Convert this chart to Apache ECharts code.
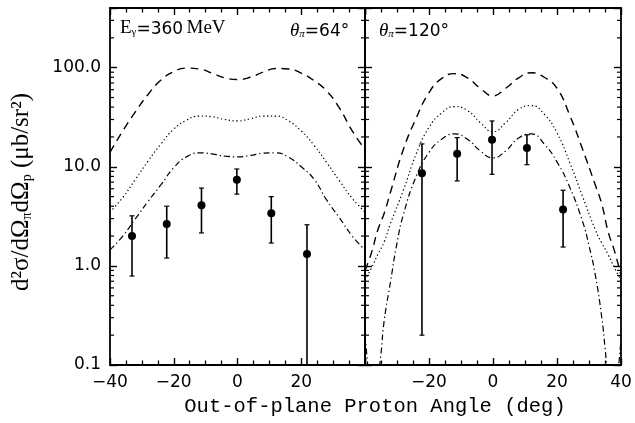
<!DOCTYPE html>
<html><head><meta charset="utf-8">
<script src="https://cdn.jsdelivr.net/npm/echarts@6/dist/echarts.min.js"></script>
<style>html,body{margin:0;padding:0;background:#fff}#c{width:635px;height:423px}</style>
</head><body><div id="c"></div>
<script>
// ---------- data ----------
const xTickValues = [-40, -20, 0, 20, 40];
const yTickValues = [0.1, 1, 10, 100];

// left panel (theta_pi = 64 deg) model curves
const leftAngles   = [-40,-36,-32,-28,-24,-20,-16,-12,-8,-4,0,4,8,12,16,20,24,28,32,36,40];
const leftDashed   = [14,23,36,54,75,91,99,97,88,79,76,80,90,98,97,88,74,58,39,23,15];
const leftDotted   = [3.5,4.9,7.5,11.5,17,24,29.5,32.5,32,30,29,30.5,32.5,32.5,29,23,16.5,11,7.2,4.8,3.5];
const leftDashDot  = [1.45,2.0,3.0,4.5,6.6,9.8,12.6,13.8,13.5,12.8,12.6,13.0,13.7,13.8,12.5,10,7.5,4.6,3.05,2.0,1.45];

// right panel (theta_pi = 120 deg) model curves
const rightAngles  = [-40,-38,-36,-34,-32,-28,-24,-20,-16,-12,-8,-4,0,4,8,12,16,20,24,28,32,34,36,38,40];
const rightDashed  = [0.9,1.35,2.3,3.4,5.6,15,31,56,78,87,79,62,52,62,79,89,80,62,33,15,6.5,4.2,2.2,1.4,0.8];
const rightDotted  = [0.72,0.95,1.3,1.75,2.7,5.8,13.5,25,35,40.5,37,28,22.6,28,38,41.5,34,22,11,5,2.3,1.7,1.3,0.95,0.72];
const rightDDAngles = [-40,-39,-37.5,-36,-35,-34,-32,-30,-28,-24,-20,-16,-12,-8,-4,0,4,8,12,16,20,24,28,30,32,34,35,36,37.5,39,40];
const rightDashDot = [0.2,0.09,0.03,0.07,0.13,0.28,0.7,1.7,3.3,8,14,19,21.5,19,14.5,12.3,14.5,19.5,21.5,17,11.2,6.2,2.8,1.6,0.8,0.3,0.15,0.07,0.03,0.08,0.18];

// measured points
const leftPtsX   = [-33.1, -22.2, -11.3, -0.2, 10.6, 21.8];
const leftPtsY   = [2.0, 2.65, 4.1, 7.4, 3.4, 1.32];
const leftErrLo  = [0.79, 1.2, 2.15, 5.3, 1.7, 0.05];
const leftErrHi  = [3.2, 4.0, 6.1, 9.5, 5.0, 2.6];
const rightPtsX  = [-22.2, -11.2, -0.3, 10.6, 21.9];
const rightPtsY  = [8.6, 13.5, 18.7, 15.5, 3.7];
const rightErrLo = [0.2, 7.2, 8.4, 10.5, 1.55];
const rightErrHi = [17, 19.7, 29, 21, 5.8];

// ---------- build ----------
const zip = (a, b) => a.map((v, i) => [v, b[i]]);
const minorY = [];
yTickValues.forEach(d => { for (let m = 2; m <= 9; m++) { const v = m * d; if (v <= 400) minorY.push(v); } });

const labelFont = { fontFamily: 'DejaVu Sans', fontSize: 17, color: '#000' };
const fmtX = v => (v < 0 ? '\u2212' + Math.abs(v) : String(v));

function xAx(grid, pos, hide) {
  return {
    type: 'value', gridIndex: grid, position: pos, min: -40, max: 40, interval: 20,
    axisLine: { show: true, onZero: false, lineStyle: { color: '#000', width: 1.8 } },
    axisTick: { show: true, inside: true, length: 7, lineStyle: { color: '#000', width: 1.4 } },
    minorTick: { show: true, splitNumber: 4, length: 4.5, lineStyle: { color: '#000', width: 1.3 } },
    splitLine: { show: false }, minorSplitLine: { show: false },
    axisLabel: pos === 'bottom' ? Object.assign({ show: true, margin: 9,
      formatter: v => (v === hide ? '' : fmtX(v)) }, labelFont) : { show: false }
  };
}
function yAx(grid, pos, labels) {
  return {
    type: 'log', logBase: 10, gridIndex: grid, position: pos, min: 0.1, max: 400,
    axisLine: { show: true, onZero: false, lineStyle: { color: '#000', width: 1.8 } },
    axisTick: { show: true, inside: true, length: 7, lineStyle: { color: '#000', width: 1.4 } },
    splitLine: { show: false }, minorTick: { show: false },
    axisLabel: labels ? Object.assign({ show: true, margin: 9,
      formatter: v => (v > 200 ? '' : v.toFixed(1)) }, labelFont) : { show: false }
  };
}

function minorTickSeries(xi, yi) {
  return {
    type: 'custom', xAxisIndex: xi, yAxisIndex: yi, z: 5,
    data: minorY.map(v => [0, v]),
    encode: { x: 0, y: 1 },
    renderItem: (params, api) => {
      const v = api.value(1);
      const a = api.coord([-40, v]), b = api.coord([40, v]);
      return { type: 'group', children: [
        { type: 'line', shape: { x1: a[0], y1: a[1], x2: a[0] + 4, y2: a[1] }, style: { stroke: '#000', lineWidth: 1.2 } },
        { type: 'line', shape: { x1: b[0], y1: b[1], x2: b[0] - 4, y2: b[1] }, style: { stroke: '#000', lineWidth: 1.2 } }
      ] };
    }
  };
}

function errSeries(xi, yi, xs, lo, hi) {
  return {
    type: 'custom', xAxisIndex: xi, yAxisIndex: yi, z: 4,
    data: xs.map((x, i) => [x, lo[i], hi[i]]),
    encode: { x: 0, y: [1, 2] },
    renderItem: (params, api) => {
      const x = api.value(0);
      const cs = params.coordSys;
      const bottom = cs.y + cs.height;
      const pLo = api.coord([x, api.value(1)]), pHi = api.coord([x, api.value(2)]);
      const w = 2.5;
      const ch = [
        { type: 'line', shape: { x1: pLo[0], y1: Math.min(pLo[1], bottom), x2: pHi[0], y2: pHi[1] }, style: { stroke: '#000', lineWidth: 1.6 } },
        { type: 'line', shape: { x1: pHi[0] - w, y1: pHi[1], x2: pHi[0] + w, y2: pHi[1] }, style: { stroke: '#000', lineWidth: 1.2 } }
      ];
      if (pLo[1] < bottom) ch.push({ type: 'line', shape: { x1: pLo[0] - w, y1: pLo[1], x2: pLo[0] + w, y2: pLo[1] }, style: { stroke: '#000', lineWidth: 1.2 } });
      return { type: 'group', children: ch };
    }
  };
}

function curve(xi, yi, xs, ys, dash, width) {
  return {
    type: 'line', xAxisIndex: xi, yAxisIndex: yi, data: zip(xs, ys), showSymbol: false, symbol: 'none',
    smooth: 0.5, clip: true,
    lineStyle: { color: '#000', width: width, type: dash }
  };
}
function pts(xi, yi, xs, ys) {
  return { type: 'scatter', xAxisIndex: xi, yAxisIndex: yi, data: zip(xs, ys), symbol: 'circle', symbolSize: 8,
    itemStyle: { color: '#000', opacity: 1 }, z: 6 };
}

const DASH = [8, 5.5], DOT = [1.3, 2.6], DASHDOT = [6, 3, 1.3, 3];

const serif = 'Liberation Serif';
const sans = 'DejaVu Sans';

const option = {
  animation: false,
  backgroundColor: '#fff',
  grid: [
    { left: 110, top: 8, width: 255, height: 357 },
    { left: 365, top: 8, width: 256, height: 357 }
  ],
  xAxis: [ xAx(0, 'bottom', 40), xAx(0, 'top'), xAx(1, 'bottom', -40), xAx(1, 'top') ],
  yAxis: [ yAx(0, 'left', true), yAx(0, 'right', false), yAx(1, 'left', false), yAx(1, 'right', false) ],
  series: [
    minorTickSeries(0, 0), minorTickSeries(2, 2),
    curve(0, 0, leftAngles, leftDashed, DASH, 1.4),
    curve(0, 0, leftAngles, leftDotted, DOT, 1.2),
    curve(0, 0, leftAngles, leftDashDot, DASHDOT, 1.2),
    curve(2, 2, rightAngles, rightDashed, DASH, 1.4),
    curve(2, 2, rightAngles, rightDotted, DOT, 1.2),
    curve(2, 2, rightDDAngles, rightDashDot, DASHDOT, 1.2),
    errSeries(0, 0, leftPtsX, leftErrLo, leftErrHi),
    errSeries(2, 2, rightPtsX, rightErrLo, rightErrHi),
    pts(0, 0, leftPtsX, leftPtsY),
    pts(2, 2, rightPtsX, rightPtsY)
  ],
  graphic: [
    { type: 'text', left: 120, top: 19, style: {
      text: '{e|E}{s|\u03b3}{n|=360} {e|MeV}',
      rich: {
        e: { fontFamily: serif, fontSize: 19, fill: '#000', verticalAlign: 'bottom', lineHeight: 22 },
        s: { fontFamily: serif, fontSize: 11, fill: '#000', verticalAlign: 'bottom', lineHeight: 22 },
        n: { fontFamily: sans, fontSize: 17, fill: '#000', verticalAlign: 'bottom', lineHeight: 22 }
      } } },
    { type: 'text', left: 290, top: 21, style: {
      text: '{t|\u03b8}{s|\u03c0}{n|=64\u00b0}',
      rich: {
        t: { fontFamily: serif, fontStyle: 'italic', fontSize: 19, fill: '#000', verticalAlign: 'bottom', lineHeight: 22 },
        s: { fontFamily: serif, fontStyle: 'italic', fontSize: 11, fill: '#000', verticalAlign: 'bottom', lineHeight: 22 },
        n: { fontFamily: sans, fontSize: 17, fill: '#000', verticalAlign: 'bottom', lineHeight: 22 }
      } } },
    { type: 'text', left: 379, top: 21, style: {
      text: '{t|\u03b8}{s|\u03c0}{n|=120\u00b0}',
      rich: {
        t: { fontFamily: serif, fontStyle: 'italic', fontSize: 19, fill: '#000', verticalAlign: 'bottom', lineHeight: 22 },
        s: { fontFamily: serif, fontStyle: 'italic', fontSize: 11, fill: '#000', verticalAlign: 'bottom', lineHeight: 22 },
        n: { fontFamily: sans, fontSize: 17, fill: '#000', verticalAlign: 'bottom', lineHeight: 22 }
      } } },
    { type: 'text', x: 375, y: 407, style: {
      text: 'Out-of-plane Proton Angle (deg)', fill: '#000',
      font: '20.5px "Liberation Mono"', align: 'center', verticalAlign: 'middle' } },
    { type: 'text', x: 20, y: 192, rotation: Math.PI / 2, style: {
      text: '{m|d\u00b2\u03c3/d\u03a9}{s|\u03c0}{m|d\u03a9}{s|p}{m| (\u03bcb/sr\u00b2)}',
      align: 'center', verticalAlign: 'middle',
      rich: {
        m: { fontFamily: serif, fontSize: 25, fill: '#000', verticalAlign: 'bottom', lineHeight: 28 },
        s: { fontFamily: serif, fontSize: 14, fill: '#000', verticalAlign: 'bottom', lineHeight: 24 }
      } } }
  ]
};

const chart = echarts.init(document.getElementById('c'), null, { renderer: 'canvas' });
chart.setOption(option);
</script>
</body></html>
